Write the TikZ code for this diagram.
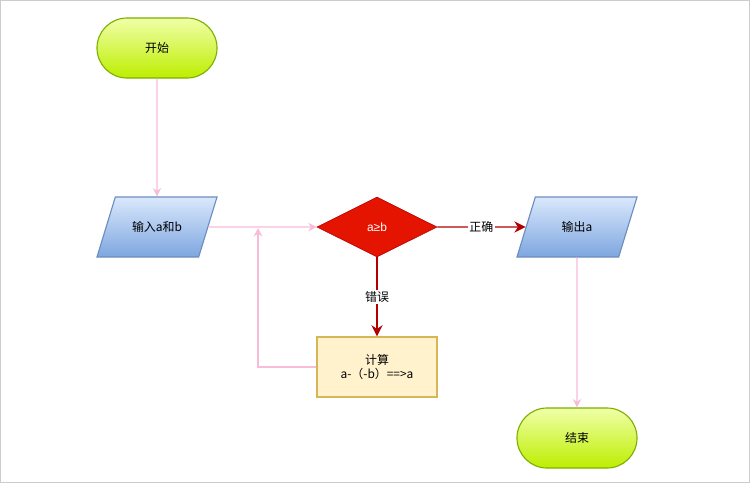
\documentclass[tikz,border=0pt]{standalone}
\usepackage{fontspec}
\setmainfont{Noto Sans CJK SC}
\newfontfamily\symfont{Liberation Sans}
\usetikzlibrary{shapes.geometric,arrows.meta}
\definecolor{limeline}{HTML}{7FAF00}
\definecolor{limetop}{HTML}{F0FFA8}
\definecolor{limebot}{HTML}{BDEE00}
\definecolor{blueline}{HTML}{6C8EBF}
\definecolor{bluetop}{HTML}{DAE8FC}
\definecolor{bluebot}{HTML}{7EA6E0}
\definecolor{redfill}{HTML}{E51400}
\definecolor{redline}{HTML}{B20000}
\definecolor{boxfill}{HTML}{FFF2CC}
\definecolor{boxline}{HTML}{D6B656}
\definecolor{pinkline}{HTML}{F8BBD8}
\begin{document}
\begin{tikzpicture}[x=0.025cm,y=-0.025cm,
    font=\fontsize{8.5}{10}\selectfont,
    terminal/.style={draw=limeline,line width=0.8pt,rounded corners=0.75cm,
        top color=limetop,bottom color=limebot,minimum width=3cm,minimum height=1.5cm},
    io/.style={draw=blueline,line width=0.8pt,trapezium,trapezium left angle=73,
        trapezium right angle=107,text width=1.25cm,align=center,
        text height=0.75cm+3pt,text depth=0.75cm-3pt,
        inner xsep=0.4166cm,inner ysep=0pt,
        top color=bluetop,bottom color=bluebot},
    decision/.style={draw=redline,fill=redfill,text=white,diamond,aspect=2,
        minimum width=3cm,minimum height=1.5cm,inner sep=0pt},
    process/.style={draw=boxline,line width=0.8pt,fill=boxfill,
        minimum width=3cm,minimum height=1.5cm,align=center},
    flow/.style={draw=pinkline,line width=0.8pt,-{Stealth[length=6pt,width=6pt]}},
    redflow/.style={draw=redline,line width=0.8pt,-{Stealth[length=8pt,width=8pt]}},
    lbl/.style={fill=white,inner sep=1pt}]
    % frame
    \useasboundingbox (0,0) rectangle (750,483);
    \draw[gray!40] (0.5,0.5) rectangle (749.5,482.5);

    \node[terminal] (start) at (157,48){开始};
    \node[io] (input) at (157,227){输入a和b};
    \node[decision] (test) at (377,227){{\symfont a≥b}};
    \node[io] (output) at (577,227){输出a};
    \node[process] (calc) at (377,367){计算\\a-（-b）==>a};
    \node[terminal] (stop) at (577,438){结束};
    \coordinate (back1) at (258,367);
    \coordinate (back2) at (258,228);

    \draw[flow] (start) -- (input);
    \draw[flow] (input) -- (test);
    \draw[redflow] (test) -- node[lbl]{正确} (output);
    \draw[redflow] (test) -- node[lbl]{错误} (calc);
    \draw[flow] (calc.west) -- (back1) -- (back2);
    \draw[flow] (output) -- (stop);
\end{tikzpicture}
\end{document}
